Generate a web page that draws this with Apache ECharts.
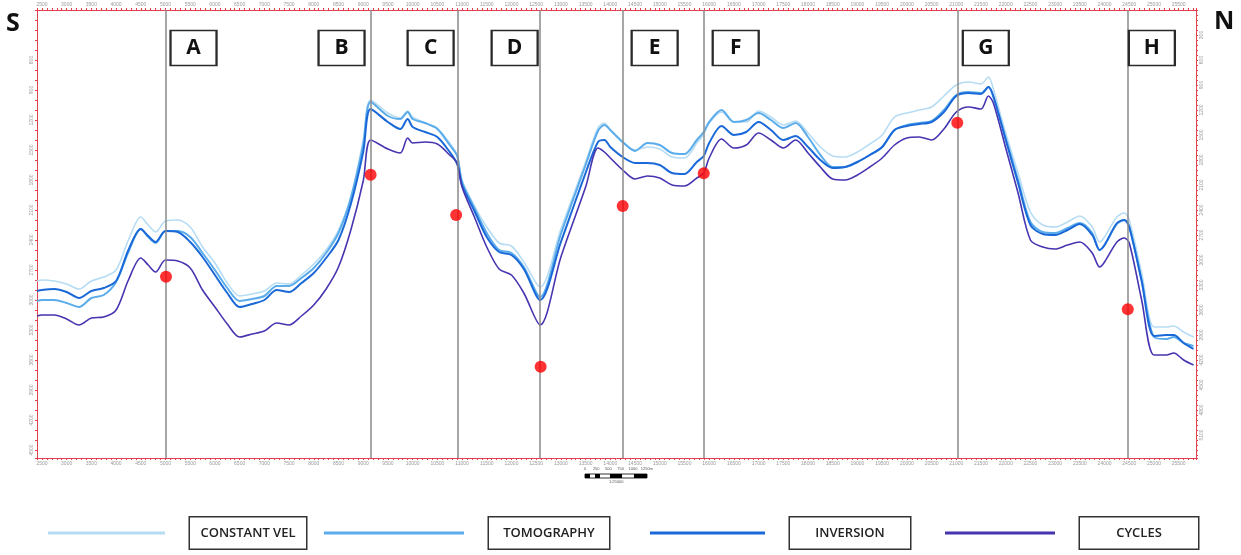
<!DOCTYPE html>
<html>
<head>
<meta charset="utf-8">
<script src="https://cdn.jsdelivr.net/npm/echarts@6/dist/echarts.min.js"></script>
<style>
html,body{margin:0;padding:0;background:#fff;}
#chart{width:1241px;height:555px;}
</style>
</head>
<body>
<div id="chart"></div>
<script>
// Distance along section (m)
const distance = [
  2400,2500,2750,3000,3250,3500,3750,4000,4250,4500,
  4650,4800,5000,5250,5500,5750,6000,6250,6500,6750,
  7000,7250,7500,7750,8000,8250,8500,8750,9000,9150,
  9500,9750,9900,10000,10250,10500,10750,10900,11000,11250,
  11500,11750,12000,12250,12580,13000,13500,13750,13880,14000,
  14250,14500,14750,15000,15250,15500,15750,15890,16000,16250,
  16500,16750,17000,17250,17500,17750,18000,18250,18500,18750,
  19000,19250,19500,19750,20000,20250,20500,20750,21000,21250,
  21500,21650,21750,22000,22250,22500,22750,23000,23250,23500,
  23750,23900,24000,24250,24400,24500,24750,25000,25250,25400,
  25600,25800
];
const constantVel = [
  2810,2800,2810,2840,2890,2810,2770,2700,2400,2170,
  2250,2320,2210,2200,2270,2470,2630,2830,2960,2940,
  2910,2830,2840,2750,2640,2500,2300,1970,1400,1000,
  1130,1180,1110,1170,1230,1280,1430,1550,1800,2060,
  2270,2430,2460,2620,2870,2290,1620,1280,1230,1300,
  1420,1500,1470,1490,1570,1580,1430,1340,1230,1120,
  1220,1220,1110,1170,1250,1210,1330,1470,1560,1570,
  1520,1440,1350,1170,1130,1100,1070,960,850,820,
  840,770,890,1330,1730,2120,2250,2270,2220,2160,
  2270,2420,2370,2170,2130,2200,2730,3270,3270,3260,
  3320,3370
];
const tomography = [
  3010,3000,3000,3030,3070,2980,2950,2820,2520,2290,
  2370,2430,2310,2310,2370,2530,2700,2880,3010,2990,
  2960,2860,2860,2780,2680,2530,2330,1980,1450,1020,
  1160,1190,1120,1190,1230,1290,1450,1560,1820,2080,
  2330,2500,2530,2670,2970,2340,1650,1310,1250,1300,
  1420,1510,1430,1450,1530,1540,1400,1320,1220,1100,
  1220,1200,1130,1200,1280,1230,1370,1550,1670,1670,
  1620,1550,1470,1300,1250,1230,1210,1100,950,920,
  930,870,970,1380,1800,2220,2320,2330,2280,2230,
  2330,2500,2450,2240,2200,2270,2800,3370,3390,3370,
  3430,3460
];
const inversion = [
  2910,2900,2890,2920,2980,2910,2880,2810,2500,2290,
  2360,2420,2310,2320,2420,2570,2750,2930,3070,3040,
  3000,2900,2920,2830,2730,2580,2400,2040,1520,1090,
  1220,1290,1190,1270,1320,1370,1520,1640,1850,2110,
  2370,2520,2550,2690,3000,2420,1730,1420,1400,1470,
  1570,1630,1630,1650,1730,1740,1620,1560,1430,1260,
  1350,1320,1220,1300,1400,1360,1470,1600,1680,1670,
  1620,1550,1470,1300,1260,1240,1220,1120,960,930,
  940,870,960,1400,1830,2250,2340,2350,2300,2240,
  2350,2500,2450,2230,2200,2270,2810,3360,3350,3350,
  3430,3490
];
const cycles = [
  3160,3150,3150,3190,3250,3180,3170,3100,2800,2580,
  2650,2720,2600,2610,2680,2900,3070,3240,3370,3340,
  3310,3230,3250,3160,3050,2890,2670,2300,1810,1400,
  1490,1530,1380,1430,1420,1440,1550,1630,1870,2170,
  2470,2690,2750,2930,3250,2570,1870,1480,1520,1580,
  1700,1790,1760,1780,1850,1860,1780,1730,1580,1390,
  1480,1450,1330,1400,1480,1400,1530,1670,1790,1800,
  1750,1670,1580,1450,1380,1370,1400,1290,1120,1070,
  1090,960,1030,1480,1930,2400,2470,2490,2450,2420,
  2530,2670,2620,2420,2380,2430,3000,3550,3550,3530,
  3600,3650
];
// Section markers
const sectionNames = ['A','B','C','D','E','F','G','H'];
const sectionLineX = [5000, 9150, 10910, 12580, 14250, 15890, 21030, 24470];
const sectionLabelX = [5567, 8562, 10364, 12064, 14897, 16537, 21597, 24957];
const sectionLabelY = 480;
const wellX = [5010, 9150, 10880, 12590, 14250, 15890, 21020, 24470];
const wellY = [2767, 1747, 2150, 3667, 2060, 1733, 1227, 3093];
// Axis tick labels
const xLabelStep = 500;
const yLeftLabelStep = 300;
const yRightLabelStep = 300;
const seriesNames = ['CONSTANT VEL','TOMOGRAPHY','INVERSION','CYCLES'];
const seriesColors = ['#b6dcf4','#5aaceb','#1b69d8','#4535b0'];

const pair = arr => distance.map((x, i) => [x, arr[i]]);
const red = '#e2404f';
const axisCommon = {
  axisLine: {show: true, onZero: false, lineStyle: {color: red, width: 1}},
  axisTick: {show: true, length: 2, lineStyle: {color: red, width: 1}},
  splitLine: {show: false}
};
const xAxisBase = (pos) => Object.assign({
  type: 'value', position: pos, min: 2400, max: 25850, interval: 100,
  axisLabel: {fontSize: 5, color: '#9a9a9a', margin: 3,
    formatter: v => (v % xLabelStep === 0 ? String(v) : '')}
}, axisCommon);

const legendItem = (name, left, w, boxW) => ({
  data: [name], left: left, top: 516, padding: 0, itemGap: 0,
  itemWidth: w, itemHeight: 3, icon: 'rect', selectedMode: false,
  formatter: n => '{g| }{b|' + n + '}',
  textStyle: {
    rich: {
      g: {width: 20},
      b: {width: boxW - 20, align: 'center', padding: [9, 10], lineHeight: 17,
          fontSize: 13, fontWeight: 600, fontFamily: 'Open Sans', color: '#222',
          borderColor: '#333', borderWidth: 1.5, backgroundColor: '#fff'}
    }
  }
});

const chart = echarts.init(document.getElementById('chart'));
chart.setOption({
  animation: false,
  backgroundColor: '#fff',
  grid: {left: 37, right: 45, top: 10, bottom: 97},
  xAxis: [xAxisBase('bottom'), xAxisBase('top')],
  yAxis: [
    Object.assign({
      type: 'value', position: 'left', inverse: true, min: 100, max: 4580, interval: 100,
      axisLabel: {fontSize: 5, color: '#9a9a9a', rotate: 90, margin: 3,
        formatter: v => (v % yLeftLabelStep === 0 && v >= 600 ? String(v) : '')}
    }, axisCommon),
    Object.assign({
      type: 'value', position: 'right', inverse: true, min: 0, max: 5376, interval: 60,
      axisLabel: {fontSize: 5, color: '#9a9a9a', rotate: 90, margin: 3,
        formatter: v => (v % yRightLabelStep === 0 && v > 0 ? String(v) : '')}
    }, axisCommon)
  ],
  legend: [
    legendItem(seriesNames[0], 48, 117, 116),
    legendItem(seriesNames[1], 324, 140, 120),
    legendItem(seriesNames[2], 650, 115, 120),
    legendItem(seriesNames[3], 945, 110, 118)
  ],
  series: [
    {
      name: 'guides', type: 'scatter', data: [], silent: true, z: 1,
      markLine: {
        silent: true, symbol: ['none','none'], label: {show: false},
        lineStyle: {color: '#8a8a8a', width: 1.5, type: 'solid'},
        data: sectionLineX.map(x => ({xAxis: x}))
      }
    },
    {name: seriesNames[0], type: 'line', data: pair(constantVel), showSymbol: false, smooth: 0.3,
     lineStyle: {width: 1.6, color: seriesColors[0]}, itemStyle: {color: seriesColors[0]}, z: 2},
    {name: seriesNames[1], type: 'line', data: pair(tomography), showSymbol: false, smooth: 0.3,
     lineStyle: {width: 2, color: seriesColors[1]}, itemStyle: {color: seriesColors[1]}, z: 2},
    {name: seriesNames[2], type: 'line', data: pair(inversion), showSymbol: false, smooth: 0.3,
     lineStyle: {width: 2, color: seriesColors[2]}, itemStyle: {color: seriesColors[2]}, z: 2},
    {name: seriesNames[3], type: 'line', data: pair(cycles), showSymbol: false, smooth: 0.3,
     lineStyle: {width: 1.6, color: seriesColors[3]}, itemStyle: {color: seriesColors[3]}, z: 2},
    {
      name: 'wells', type: 'scatter', z: 5,
      data: wellX.map((x, i) => [x, wellY[i]]),
      symbolSize: 12, itemStyle: {color: '#ff0000'},
      markPoint: {
        symbol: 'rect', symbolSize: [46, 35], silent: true,
        itemStyle: {color: '#fff', borderColor: '#2a2a2a', borderWidth: 2},
        label: {show: true, position: 'inside', formatter: p => p.name,
          fontSize: 21, fontWeight: 'bold', fontFamily: 'Open Sans', color: '#111'},
        data: sectionNames.map((n, i) => ({name: n, coord: [sectionLabelX[i], sectionLabelY]}))
      }
    }
  ],
  graphic: [
    {type: 'text', left: 6, top: 11, style: {text: 'S', fontSize: 25, fontWeight: 'bold', fontFamily: 'Open Sans', fill: '#111'}},
    {type: 'text', left: 1214, top: 9, style: {text: 'N', fontSize: 25, fontWeight: 'bold', fontFamily: 'Open Sans', fill: '#111'}},
    {type: 'group', left: 584, top: 467, children: [
      {type: 'text', x: 0, y: 0, style: {text: '0      250     500     750    1000   1250m', fontSize: 4, fill: '#555'}},
      {type: 'rect', shape: {x: 1, y: 7, width: 62, height: 4}, style: {fill: '#fff', stroke: '#000', lineWidth: 0.8}},
      {type: 'rect', shape: {x: 1, y: 7, width: 5, height: 4}, style: {fill: '#000'}},
      {type: 'rect', shape: {x: 11, y: 7, width: 5, height: 4}, style: {fill: '#000'}},
      {type: 'rect', shape: {x: 26, y: 7, width: 12, height: 4}, style: {fill: '#000'}},
      {type: 'rect', shape: {x: 50, y: 7, width: 13, height: 4}, style: {fill: '#000'}},
      {type: 'text', x: 25, y: 13, style: {text: '1:25000', fontSize: 4, fill: '#555'}}
    ]}
  ]
});
</script>
</body>
</html>
